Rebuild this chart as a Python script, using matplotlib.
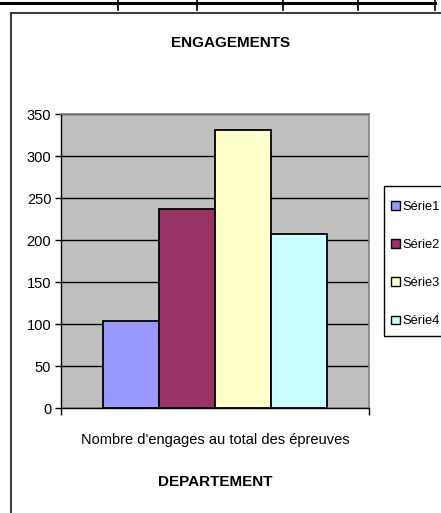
import matplotlib
matplotlib.use("Agg")
import matplotlib.pyplot as plt
from matplotlib.lines import Line2D
from matplotlib.patches import Rectangle

# data
categorie = "Nombre d'engages au total des épreuves"
series = ["Série1", "Série2", "Série3", "Série4"]
valeurs = [104, 237, 331, 207]
couleurs = ["#9999FF", "#993366", "#FFFFCC", "#CCFFFF"]
yticks = [0, 50, 100, 150, 200, 250, 300, 350]

plt.rcParams['font.family'] = ['Liberation Sans', 'DejaVu Sans']

W, H = 441, 513
fig = plt.figure(figsize=(W/100, H/100), dpi=100)

def fx(px):
    return px / W

def fy(py):
    return 1 - py / H

# table border at the top of the page
fig.add_artist(Line2D([0, fx(435)], [fy(2.5), fy(2.5)], color="black", lw=2.2))
for xv in [118, 197, 283, 358, 435]:
    fig.add_artist(Line2D([fx(xv), fx(xv)], [fy(0), fy(10)], color="black", lw=1.2))

# chart frame
fig.add_artist(Line2D([fx(11), fx(441)], [fy(13), fy(13)], color="#404040", lw=1.5))
fig.add_artist(Line2D([fx(11), fx(11)], [fy(13), fy(513)], color="#404040", lw=1.5))

ax = fig.add_axes([fx(61), fy(408), fx(369) - fx(61), fy(114) - fy(408)])
ax.set_facecolor("#C0C0C0")

w = 56 / 308
bars = []
for i, (s, v, c) in enumerate(zip(series, valeurs, couleurs)):
    b = ax.bar((i - 1.5) * w, v, width=w, color=c, edgecolor="black", linewidth=1.3,
               label=s, zorder=3)
    bars.append(b)

ax.set_xlim(-0.5, 0.5)
ax.set_ylim(0, 350)
ax.set_yticks(yticks)
ax.set_yticklabels([str(t) for t in yticks], fontsize=10.5)
ax.yaxis.grid(True, color="black", lw=1.0, zorder=1)
ax.set_axisbelow(True)
ax.tick_params(axis="y", length=4, width=1, color="black", pad=3)
ax.set_xticks([-0.5, 0.5])
ax.set_xticklabels(["", ""])
ax.tick_params(axis="x", length=5, width=1, color="black", direction="out")

for side in ["top", "right"]:
    ax.spines[side].set_color("#808080")
    ax.spines[side].set_linewidth(1.2)
for side in ["left", "bottom"]:
    ax.spines[side].set_color("black")
    ax.spines[side].set_linewidth(1.0)

fig.text(fx(231), fy(43), "ENGAGEMENTS", ha="center", va="center",
         fontsize=11, fontweight="bold")
fig.text(fx(215), fy(440), categorie, ha="center", va="center", fontsize=10.5)
fig.text(fx(215), fy(482), "DEPARTEMENT", ha="center", va="center",
         fontsize=11, fontweight="bold")

# legend box (runs past the right edge, like the reference)
fig.add_artist(Rectangle((fx(384), fy(336)), fx(70), fy(186) - fy(336),
                         facecolor="white", edgecolor="black", lw=1.0))
leg = fig.legend(handles=[b[0] for b in bars], labels=series,
                 loc="upper left", bbox_to_anchor=(fx(384), fy(194)),
                 fontsize=9.3, frameon=False,
                 handlelength=0.65, handleheight=0.65, handletextpad=0.25,
                 labelspacing=2.02, borderpad=0.55, borderaxespad=0)
for h in leg.legend_handles:
    h.set_linewidth(1.0)

fig.savefig("out.png", dpi=100)
